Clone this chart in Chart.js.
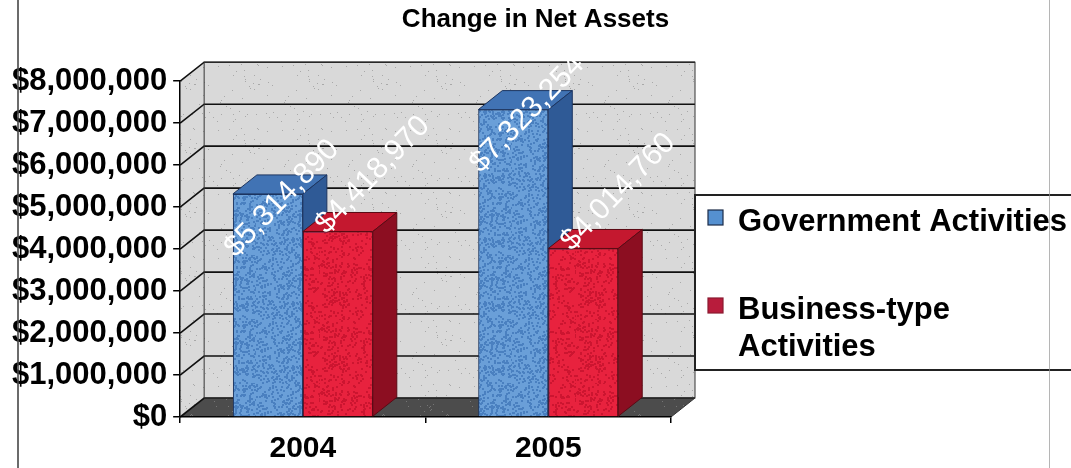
<!DOCTYPE html>
<html>
<head>
<meta charset="utf-8">
<title>Change in Net Assets</title>
<script src="https://cdn.jsdelivr.net/npm/chart.js@4.4.1/dist/chart.umd.min.js"></script>
<style>
  body { margin: 0; background: #fff; }
  #wrap { position: relative; width: 1071px; height: 468px; overflow: hidden; }
  .edge { position: absolute; top: 0; height: 468px; pointer-events: none; }
</style>
</head>
<body>
<div id="wrap">
  <canvas id="netAssets" width="1071" height="468"></canvas>
  <div class="edge" style="left:17px; width:2px; background:rgba(70,70,70,0.8);"></div>
  <div class="edge" style="left:1049px; width:1px; background:rgba(150,150,150,0.7);"></div>
</div>
<script>
// ----------------------------
// DATA
// ----------------------------
const years = ["2004", "2005"];
const governmentActivities = [5314890, 7323254];
const businessTypeActivities = [4418970, 4014760];
const seriesNames = ["Government Activities", "Business-type Activities"];
const yMax = 8000000;
const yStep = 1000000;

// depth of the 3d box (pixels)
const DX = 24, DY = -19;
const FONT = "Arial, 'Liberation Sans', sans-serif";

// ----------------------------
// TEXTURES
// ----------------------------
let seed = 11;
function rnd() {
  seed = (seed * 16807) % 2147483647;
  return seed / 2147483647;
}

function speckle(base, spot, count, size) {
  const c = document.createElement("canvas");
  c.width = 64; c.height = 64;
  const g = c.getContext("2d");
  g.fillStyle = base;
  g.fillRect(0, 0, 64, 64);
  g.fillStyle = spot;
  for (let i = 0; i < count; i++) {
    g.fillRect(Math.floor(rnd() * 64), Math.floor(rnd() * 64), size, size);
  }
  return g.createPattern(c, "repeat");
}

const blueFront = speckle("#6a9fd8", "#4a80c0", 420, 2);
const redFront = speckle("#e8223e", "#cc1530", 300, 2);
const wallFill = speckle("#d9d9d9", "#a9a9a9", 45, 1);
const floorFill = speckle("#4c4c4c", "#757575", 60, 1);

const faceColors = [
  { top: "#4173b4", side: "#2f5a96", edge: "#1d3560" },
  { top: "#c4182f", side: "#8c0e21", edge: "#5a0a14" }
];

function money(v) {
  return "$" + Number(v).toLocaleString("en-US");
}

// ----------------------------
// 3D BOX: walls, floor, gridlines
// ----------------------------
const box3d = {
  id: "box3d",
  afterLayout(chart) {
    // keep the title centred on the whole canvas
    if (chart.titleBlock) {
      chart.titleBlock.left = 0;
      chart.titleBlock.right = chart.width;
    }
  },
  beforeDraw(chart) {
    const { ctx } = chart;
    const { left, right, top, bottom } = chart.chartArea;
    const y = chart.scales.y;
    ctx.save();

    // back wall
    ctx.fillStyle = wallFill;
    ctx.fillRect(left + DX, top + DY, right - left, bottom - top);

    // left side wall
    ctx.beginPath();
    ctx.moveTo(left, top);
    ctx.lineTo(left + DX, top + DY);
    ctx.lineTo(left + DX, bottom + DY);
    ctx.lineTo(left, bottom);
    ctx.closePath();
    ctx.fillStyle = wallFill;
    ctx.fill();

    // floor
    ctx.beginPath();
    ctx.moveTo(left, bottom);
    ctx.lineTo(right, bottom);
    ctx.lineTo(right + DX, bottom + DY);
    ctx.lineTo(left + DX, bottom + DY);
    ctx.closePath();
    ctx.fillStyle = floorFill;
    ctx.fill();

    // gridlines, bent round the side wall
    ctx.strokeStyle = "#111";
    ctx.lineWidth = 1.6;
    y.ticks.forEach(t => {
      const yy = y.getPixelForValue(t.value);
      ctx.beginPath();
      ctx.moveTo(left, yy);
      ctx.lineTo(left + DX, yy + DY);
      ctx.lineTo(right + DX, yy + DY);
      ctx.stroke();
    });

    // wall outlines
    ctx.lineWidth = 1;
    ctx.strokeStyle = "#333";
    ctx.strokeRect(left + DX, top + DY, right - left, bottom - top);
    ctx.beginPath();
    ctx.moveTo(right, bottom);
    ctx.lineTo(right + DX, bottom + DY);
    ctx.stroke();
    ctx.restore();
  },
  afterDatasetsDraw(chart) {
    const { ctx } = chart;
    ctx.save();
    chart.data.datasets.forEach((ds, i) => {
      const meta = chart.getDatasetMeta(i);
      // redraw fronts so each series covers the sides of the one before it
      meta.controller.draw();
      const col = faceColors[i];
      meta.data.forEach(el => {
        const { x, y, base, width } = el.getProps(["x", "y", "base", "width"], true);
        const x0 = x - width / 2, x1 = x + width / 2;
        ctx.lineWidth = 1;
        ctx.strokeStyle = col.edge;
        // top face
        ctx.beginPath();
        ctx.moveTo(x0, y);
        ctx.lineTo(x1, y);
        ctx.lineTo(x1 + DX, y + DY);
        ctx.lineTo(x0 + DX, y + DY);
        ctx.closePath();
        ctx.fillStyle = col.top;
        ctx.fill();
        ctx.stroke();
        // side face
        ctx.beginPath();
        ctx.moveTo(x1, y);
        ctx.lineTo(x1 + DX, y + DY);
        ctx.lineTo(x1 + DX, base + DY);
        ctx.lineTo(x1, base);
        ctx.closePath();
        ctx.fillStyle = col.side;
        ctx.fill();
        ctx.stroke();
      });
    });
    ctx.restore();
  }
};

// ----------------------------
// VALUE LABELS (rotated, white)
// ----------------------------
const valueLabels = {
  id: "valueLabels",
  afterDraw(chart, args, opts) {
    const { ctx } = chart;
    ctx.save();
    ctx.font = "30px " + FONT;
    ctx.fillStyle = "#fff";
    ctx.textAlign = "center";
    ctx.textBaseline = "middle";
    chart.data.datasets.forEach((ds, i) => {
      const shift = opts.shift[i];
      chart.getDatasetMeta(i).data.forEach((el, j) => {
        const { x, y } = el.getProps(["x", "y"], true);
        ctx.save();
        ctx.translate(x + DX / 2 + shift[0], y + DY / 2 + shift[1]);
        ctx.rotate(-46 * Math.PI / 180);
        ctx.fillText(money(ds.data[j]), 0, 0);
        ctx.restore();
      });
    });
    ctx.restore();
  }
};

// ----------------------------
// LEGEND (boxed, wrapped text)
// ----------------------------
const boxLegend = {
  id: "boxLegend",
  afterDraw(chart, args, opts) {
    const { ctx } = chart;
    ctx.save();
    ctx.strokeStyle = "#222";
    ctx.lineWidth = 2;
    ctx.strokeRect(opts.x, opts.y, opts.w, opts.h);

    ctx.font = "bold 31px " + FONT;
    ctx.textBaseline = "middle";
    ctx.fillStyle = "#000";
    let cy = opts.firstLine;
    chart.data.datasets.forEach((ds, i) => {
      // wrap the label on words
      const words = ds.label.split(" ");
      const lines = [];
      let line = "";
      words.forEach(w => {
        const test = line ? line + " " + w : w;
        if (line && ctx.measureText(test).width > opts.maxText) {
          lines.push(line);
          line = w;
        } else {
          line = test;
        }
      });
      lines.push(line);

      ctx.fillStyle = opts.swatch[i];
      ctx.fillRect(opts.x + 13, cy - 12, 15, 15);
      ctx.lineWidth = 1.2;
      ctx.strokeStyle = opts.swatchEdge[i];
      ctx.strokeRect(opts.x + 13, cy - 12, 15, 15);

      ctx.fillStyle = "#000";
      lines.forEach((l, k) => {
        ctx.fillText(l, opts.x + 43, cy + k * opts.lineHeight);
      });
      cy += lines.length * opts.lineHeight + opts.gap;
    });
    ctx.restore();
  }
};

// ----------------------------
// CHART
// ----------------------------
const ctx = document.getElementById("netAssets").getContext("2d");

new Chart(ctx, {
  type: "bar",
  data: {
    labels: years,
    datasets: [
      {
        label: seriesNames[0],
        data: governmentActivities,
        backgroundColor: blueFront,
        borderColor: "#1d3560",
        borderWidth: 1
      },
      {
        label: seriesNames[1],
        data: businessTypeActivities,
        backgroundColor: redFront,
        borderColor: "#5a0a14",
        borderWidth: 1
      }
    ]
  },
  options: {
    responsive: false,
    animation: false,
    devicePixelRatio: 1,
    categoryPercentage: 0.57,
    barPercentage: 1,
    layout: { padding: { left: 6, right: 400, top: 0, bottom: 0 } },
    scales: {
      x: {
        // fixed band under the floor; the year labels sit low in it
        afterFit: scale => { scale.height = 51; },
        grid: { display: true, offset: true, drawOnChartArea: false, tickLength: 6, color: "#000", lineWidth: 1.5 },
        border: { display: true, color: "#000", width: 1.5 },
        ticks: { color: "#000", padding: 8, font: { family: FONT, size: 30, weight: "bold" } }
      },
      y: {
        min: 0,
        max: yMax,
        grid: { drawOnChartArea: false, tickLength: 7, color: "#000", lineWidth: 1.5 },
        border: { display: true, color: "#000", width: 1.5 },
        ticks: {
          stepSize: yStep,
          color: "#000",
          padding: 6,
          font: { family: FONT, size: 31, weight: "bold" },
          callback: v => money(v)
        }
      }
    },
    plugins: {
      title: {
        display: true,
        text: "Change in Net Assets",
        color: "#000",
        font: { family: FONT, size: 26, weight: "bold" },
        padding: { top: 4, bottom: 46 }
      },
      legend: { display: false },
      tooltip: { enabled: false },
      valueLabels: { shift: [[2, 14], [23, -47]] },
      boxLegend: {
        x: 695, y: 195, w: 400, h: 175,
        firstLine: 222, lineHeight: 37, gap: 51, maxText: 345,
        swatch: ["#5590d0", "#b81c3c"],
        swatchEdge: ["#1c2c48", "#8a1a30"]
      }
    }
  },
  plugins: [box3d, valueLabels, boxLegend]
});
</script>
</body>
</html>
